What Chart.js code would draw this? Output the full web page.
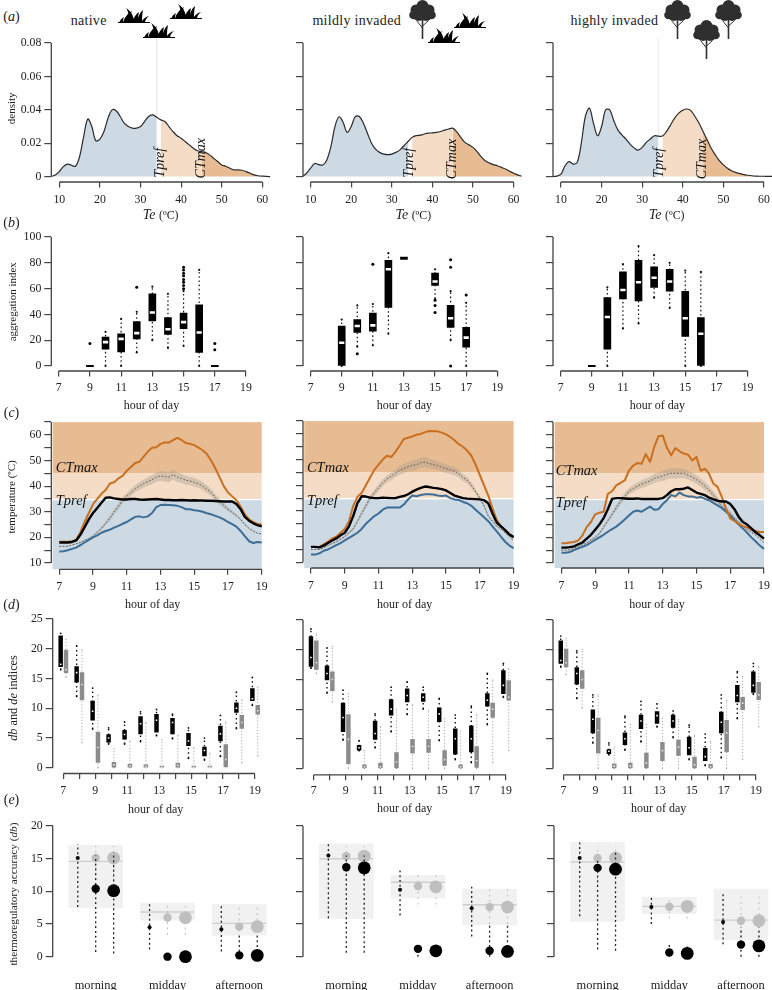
<!DOCTYPE html>
<html><head><meta charset="utf-8">
<script src="https://cdn.jsdelivr.net/npm/chart.js@4"></script>
<style>
html,body{margin:0;padding:0;background:#fff;width:772px;height:990px;overflow:hidden;position:relative}
canvas{position:absolute;display:block}
.t{position:absolute;font-family:'Liberation Serif',serif;color:#222;white-space:nowrap;transform:translate(-50%,-50%)}
.t small{font-size:.85em}
svg.icon{position:absolute;overflow:visible}
</style></head><body>
<script>
/* ---------- panel (a): density of operative temperature ---------- */
const teValues=[8,9,10,11,12,13,14,15,16,17,18,19,20,21,22,23,24,25,26,27,28,29,30,31,32,33,34,35,36,37,38,39,40,41,42,43,44,45,46,47,48,49,50,51,52,53,54,55,56,57,58,59,60,61,62];
const densityNative=[0,.001,.003,.006,.0075,.0068,.0062,.012,.024,.0345,.030,.0215,.0225,.027,.035,.040,.0395,.036,.032,.030,.029,.029,.030,.033,.036,.037,.0355,.034,.033,.030,.027,.0245,.023,.021,.019,.017,.0155,.015,.0145,.013,.011,.009,.007,.0062,.005,.004,.004,.0038,.003,.002,.001,.0005,.0003,.0001,0];
const densityMild=[0,.002,.005,.0078,.0072,.007,.010,.018,.030,.0358,.0325,.0265,.030,.036,.036,.032,.026,.020,.0165,.0145,.0135,.0132,.0135,.0145,.016,.0185,.021,.0235,.0245,.0248,.0255,.026,.0262,.0265,.027,.0278,.0285,.029,.0268,.0235,.0205,.019,.0175,.015,.012,.0095,.0082,.0072,.0065,.0055,.0045,.0032,.002,.001,.0002];
const densityHigh=[0,.0003,.0015,.0065,.009,.0075,.0085,.02,.036,.041,.032,.0245,.03,.040,.040,.0335,.028,.025,.0225,.0195,.0172,.0158,.0175,.0205,.0225,.0245,.0242,.0243,.027,.031,.035,.038,.0398,.0405,.0395,.036,.032,.027,.022,.017,.013,.0095,.007,.005,.0035,.0025,.0018,.0012,.0008,.0005,.0003,.0002,.0002,.0001,.0001];
const densityTicks=[0,.02,.04,.06,.08];
const densityLabels=['0','0.02','0.04','0.06','0.08'];
const teTicks=[10,20,30,40,50,60];
const teLabels=['10','20','30','40','50','60'];

/* ---------- panel (b): aggregation index [low, q1, median, q3, high] ---------- */
const aggHoursNative=[9,10,11,12,13,14,15,16,17];
const aggNative=[[0,0,null,0,0],[0,13,18.5,22.5,26.5],[0,11,21,25,36.5],[10.5,21,25.5,34.5,42],[20,35,41.5,56,61.5],[14,24.5,28.5,37.5,56],[15.5,29,34,41,58],[0,10.5,26,47.5,74.5],[0,0,null,0,0]];
const aggOutNative=[[9,17.5],[12,61],[15,60],[15,62.5],[15,65],[15,67],[15,70],[15,72],[15,74.5],[15,76.5],[17,12.5],[17,17.5]];
const aggHoursMild=[9,10,11,12,13,15,16,17];
const aggMild=[[0,0,18,31,36],[15,26,31,36,47],[16,27,31.5,41,48],[25,45.5,75,82,87.5],[83.5,82.6,null,84.4,83.5],[52,62.5,65.5,72,75],[20,30,37,47,58],[0,14.5,22,30,49]];
const aggOutMild=[[10,9.5],[11,79],[15,51],[15,47],[15,41.5],[16,0],[16,76.5],[16,82.5],[17,55]];
const aggHoursHigh=[9,10,11,12,13,14,15,16];
const aggHigh=[[0,0,null,0,0],[0,13,38,53,61],[29,52,59,73,79],[33,50.5,65,82,93],[53,61,68.5,77,86],[45,58,65.5,75,80],[0,23,37,58,74],[0,0,25,37.5,73]];
const aggOutHigh=[];
const aggTicks=[0,20,40,60,80,100];
const aggLabels=['0','20','40','60','80','100'];
const oddHourTicks=[7,9,11,13,15,17,19];
const oddHourLabels=['7','9','11','13','15','17','19'];

/* ---------- panel (c): temperatures through the day, every quarter hour ---------- */
const tempHours=Array.from({length:49},(_,i)=>7+i/4);
const tempNativeOrange=[18.3,18.3,18.3,18.5,19,22,26,29.5,33,35,37,38.5,41,41.5,43,44,46,47.5,49,49.5,51.5,53.5,55,55.2,56.5,57,57,58,58.8,58,56.8,56.5,56,55,54,52.5,50,47,43.5,40,37.5,36,34.5,32,29,27,26,25.2,25];
const tempNativeBlack=[18,18,18,18.2,18.8,21,24,27,29.5,31.5,33.5,35.5,35.6,35.2,35,34.8,34.8,35,35,34.8,34.7,34.8,34.9,35,34.8,34.6,34.6,34.5,34.5,34.6,34.5,34.4,34.5,34.4,34.4,34.3,34.3,34.2,34.1,34,34,34,33,31,28,26.5,25.5,24.8,24.3];
const tempNativeBlue=[14.5,14.6,15,15.5,16,17,18,19,20,20.8,21.8,22.5,23,23.8,24.5,25.3,26,27,28,28.2,27.8,28.2,29.5,31.8,32.6,32.7,32.6,32.5,32.3,31.8,31,31,30.6,30.4,30,29.4,29,28.4,27.8,27,26,25.2,24.2,22.5,20.5,18.5,17.8,18.2,18];
const tempNativeMean=[16.5,16.5,16.5,17,17.5,18,18.8,19.5,20.5,22,23.5,25.5,27.5,30,32,34.5,36,37.5,39,40,41,41.8,42.5,43.5,44,43.7,43.5,44.5,43.5,43,42.3,42,41.5,41,40,38.8,37.5,35.5,34,32.5,31,29.8,28.5,27,25,23.5,22.5,21.6,21.4];
const tempMildOrange=[16,16,16,17,18,19.3,20,21.5,23,26,32,35.5,37,40,43,46,48,50,51.5,51,53,55.5,58,58.5,59,59.7,60,60.7,61.1,61,61,60.5,59.8,58.8,57.5,56,55,53.5,51.5,48,44,40,36,31,26.5,24,22.5,21,19.8];
const tempMildBlack=[16,16,15.8,16.5,17.5,18.5,19.3,20.5,21.5,24,28,33,35.7,35.6,35.2,35,35,35.2,35.1,35,35,35.5,35.8,36.5,37.5,38.3,39,39.5,39.3,39,38.8,38.5,38,37,36,35.5,35,34.8,34.7,34.6,34.5,34.2,33,29,25.5,24,22.5,20.8,19.8];
const tempMildBlue=[13,13,13.5,14.5,15,15.8,16.7,17.5,18.5,19.5,20.5,21.5,23,25,26.5,28,29,30.5,31.3,31.3,31.3,31.3,32.5,34.5,36,35.7,36.2,36.5,36.5,36.4,36,35.8,36,35,34.5,34.3,33.5,33,32,30.5,29,27.5,26,24,22,20,18,16.5,15.5];
const tempMildMean=[15,15,15,15.7,16.5,17.3,18,19,20,21.5,23,26,29,32,35,37,39,41,42.5,43.5,44.7,45.8,46.5,47.2,47.8,48,48.8,49,48.5,48,47.7,47,46.5,46,45.5,44.5,43,42,40,37.5,35,32,28,26,24,23,21.5,20,18.5];
const tempHighOrange=[17.7,17.7,18,18.2,18.8,20.8,24,26,29,29.6,30,37,38,40.3,41.3,42.2,46,48,49,48.7,52.6,49.4,55.3,59.5,59.8,55,52,54.9,53.6,52.7,52.3,50,51.4,46,46.8,44.8,41,39.7,35.8,31.2,27.3,26.4,25.3,24.4,23.9,23,22.5,22.1,22.1];
const tempHighBlack=[16,16,16.2,16.5,17.3,18,19.5,21,23,25,27.5,31,35,35.3,35.3,35.2,35.1,35.1,35.2,35,35,35,35,35,35.3,36.5,38,38.8,38.8,39,39.5,38.5,37.5,37,36.5,35.5,34.8,34.3,34,34,33,31,28,26,25,23.5,22,20.8,19.5];
const tempHighBlue=[14,14,14.3,15,15.7,16.3,17,18,19,20,21,22.2,23.2,24.2,25.5,27,28.5,30,30.5,30,31,32,30.8,31,33,34.5,36.5,36,37.5,36.5,36,36,35.5,35.8,35,34.5,33.5,32.5,31.5,30,28.5,26.8,25,23.5,21.8,20,18.5,16.8,15.5];
const tempHighMean=[15,15,15.2,15.7,16.3,17,17.8,19,20,21.5,24,26.5,29,31.5,34,36,38,39,40,40.8,41.5,42,43,43.5,44,44.6,45,45,45,45,44.3,43.5,42.5,41.5,40,38.5,36.5,34.5,32,31,29.5,27.5,26,24.5,23,22,21,19.5,18];
const tempBandHalf=[.2,.2,.2,.2,.3,.3,.4,.4,.5,.6,.7,.8,1,1.1,1.2,1.3,1.3,1.4,1.4,1.5,1.6,1.7,1.8,1.8,2,2,2,2,1.9,1.8,1.8,1.7,1.7,1.6,1.6,1.5,1.4,1.3,1.2,1,.8,.7,.6,.5,.4,.3,.3,.2,.2];
const tempTicks=[10,15,20,25,30,35,40,45,50,55,60,65];
const tempLabels=['10','','20','','30','','40','','50','','60',''];

/* ---------- panel (d): db and de indices [low, q1, median, q3, high] ---------- */
const allHours=[7,8,9,10,11,12,13,14,15,16,17,18,19];
const allHourLabels=['7','','9','','11','','13','','15','','17','','19'];
const dbNative=[[16.5,17,17.4,22.2,22.6],[12,14.4,16,17,20.5],[6.5,8,9.5,11.2,13.4],[4,4.3,5,5.6,6.7],[4,4.8,5.6,6.3,7.7],[4.4,5.7,7.4,8.6,9.4],[5.4,6,8,9,9.8],[4.9,5.7,7.6,8.3,9],[1.6,3.7,4.5,5.8,6.7],[1.3,2,2.9,3.5,5],[1.9,4.5,5.7,7,8.8],[6.6,9.3,10,10.9,12.7],[10.5,11.3,11.6,13.3,15.2]];
const deNative=[[15.2,16,16.5,19.8,21.6],[4.2,11.4,14,16,19.8],[0,.9,3.4,6,12.3],[0,0,.5,.9,3.2],[0,0,.3,.6,4.5],[0,0,.2,.5,7.6],[0,0,.1,.3,4.7],[0,0,.4,.8,5.5],[0,0,.1,.3,3.4],[0,0,.1,.3,2.5],[0,.2,1.4,3.9,7.7],[.8,6.6,7.6,8.8,11.4],[2,9,9.6,10.5,13.6]];
const dbMild=[[16.9,17.2,18.7,22.2,23.5],[12.7,14.9,16,17.3,20.3],[4.8,6.2,8.6,11,13.2],[3,3.1,3.5,3.9,4.7],[3.5,4.9,5.9,8,9.2],[6.2,9,10,11.6,13.7],[9.1,11.2,12.3,13.4,14.6],[10,11.3,12,12.6,13.7],[4.7,7.9,9.2,10.2,11.8],[1.5,2.4,5,6.7,9],[1,2.8,5,7.2,10.5],[7.4,10.5,11.5,12.6,16],[12,12.6,14,16.5,17.7]];
const deMild=[[16,16.7,17.8,21.5,22.7],[11.2,13.1,15,16.3,20.5],[0,.8,4.9,9.1,12.6],[0,0,.3,.6,3],[0,0,.3,.9,7],[0,0,1.1,2.7,9.9],[0,2.6,3.7,4.9,10.8],[0,2.7,3.7,4.9,9.8],[0,.5,1.5,3,8.4],[0,0,.3,.6,6.3],[0,.2,1.3,3.7,9],[1,8.6,10,11,14.9],[3,11.5,12,14.8,16.8]];
const dbHigh=[[17.1,17.7,18.2,21.5,22.3],[11.8,14.2,16,17,19.8],[4.3,6,8.3,9.9,12.4],[2.3,2.5,2.9,3.2,4.3],[3.1,4,5,6,8.8],[4.5,6.7,8,9,11.3],[7,7.6,8.9,9.6,10.9],[5.2,6.9,8,9,9.7],[1.5,2.3,3.5,5.3,7.3],[.5,1.3,2,3.4,5.8],[1.8,6,7.8,9.5,12.4],[8.4,11.2,12.3,14,16.3],[12.5,12.8,14,16.3,17.7]];
const deHigh=[[15.8,17.1,17.8,20.1,22],[10.2,13.5,15,16.5,20.1],[0,2.6,6.4,8.5,12.4],[0,0,.4,.8,3.6],[0,0,.4,.9,7.4],[0,0,.9,2.6,7.4],[0,1.3,3,4.4,8.5],[0,2.2,3.6,4.8,8.2],[0,0,.6,1.9,5.6],[0,0,.3,.7,4.5],[0,2.8,6,8.1,11.4],[1.5,9.9,11,12,15.5],[7,11.6,12.4,14.5,17.2]];
const indexTicks=[0,5,10,15,20,25];
const indexLabels=['0','5','10','15','20','25'];

/* ---------- panel (e): thermoregulatory accuracy ---------- */
const periods=['morning','midday','afternoon'];
const accPositions=[1,2,3];
const accTicks=[0,5,10,15,20];
const accLabels=['0','5','10','15','20'];
/* [band low, band high, reference line] */
const accBandsNative=[[7.5,17.1,14.6],[5.6,8.2,6.85],[3.3,8,5.1]];
const accBandsMild=[[5.85,17.3,15],[9,12.45,11.4],[4.9,10.35,7.95]];
const accBandsHigh=[[5.4,17.5,14.5],[6.6,9.1,7.7],[2.6,10.35,5.6]];
/* [value, low, high] for small, medium, large group in each period */
const accBlackNative=[[15.1,7.6,17.2],[10.4,.7,15.5],[10.1,.5,16],[4.5,1.1,8.2],[0,0,0],[0,0,0],[4.2,.8,8],[.2,0,3.2],[.2,0,3.2]];
const accGrayNative=[null,[15.1,10,17],[15.1,10,17],null,[6,3.3,7.8],[5.95,3.3,7.8],null,[4.6,3,8],[4.6,3,8]];
const accBlackMild=[[15.5,5.9,17.3],[13.7,.6,15.5],[13.6,.6,15.5],[10.25,6.3,13.2],[1.2,0,2],[.9,.9,.9],[7.4,3.1,10.7],[.9,0,5],[.8,0,5]];
const accGrayMild=[null,[15.4,10,17],[15.4,10,17],null,[10.8,8,13],[10.7,8,13],null,[7.6,5,10.4],[7.6,5,10.4]];
const accBlackHigh=[[15.1,6.2,17.5],[13.6,1.1,15],[13.4,.9,16],[7.6,5,9.2],[.65,0,1.9],[.5,.5,1.9],[5.3,1.9,9.9],[1.85,0,4.5],[1.65,0,4.5]];
const accGrayHigh=[null,[15.1,11,17],[15.1,11,17],null,[7.65,5.8,9],[7.7,5.8,9],null,[5.5,3,9.5],[5.5,3,9.5]];

/* ---------- helpers ---------- */
const FONT="'Liberation Serif',serif";
Chart.defaults.font.family=FONT;
Chart.defaults.color='#222';
const AXIS='#444';
const ORANGE='#c96f1f', BLUE='#3c6d97', Z_DARK='#e8bc92', Z_LIGHT='#f4dcc6', Z_BLUE='#cdd9e3';

function text(html,x,y,size,rot,extra){
  const d=document.createElement('div');d.className='t';d.innerHTML=html;
  d.style.left=x+'px';d.style.top=y+'px';d.style.fontSize=size+'px';
  if(rot)d.style.transform='translate(-50%,-50%) rotate('+rot+'deg)';
  if(extra)d.style.cssText+=extra;
  document.body.appendChild(d);
}
function range(pa,va,pb,vb,lo,hi){
  const k=(vb-va)/(pb-pa);
  return [va+(lo-pa)*k, va+(hi-pa)*k];
}
function decor(o){return {id:'decor',
  beforeDatasetsDraw(c){
    if(!o.zones)return;
    const a=c.chartArea,ctx=c.ctx,xs=c.scales.x,ys=c.scales.y;
    ctx.save();
    o.zones.forEach(z=>{
      const l=xs.getPixelForValue(z[0]),r=xs.getPixelForValue(z[1]);
      const t=ys.getPixelForValue(z[3]),b=Math.min(ys.getPixelForValue(z[2]),a.bottom);
      ctx.fillStyle=z[4];ctx.fillRect(l,t,r-l,b-t);
    });
    ctx.restore();
  },
  afterDatasetsDraw(c){
    const ctx=c.ctx,xs=c.scales.x,ys=c.scales.y,a=c.chartArea;
    ctx.save();
    (o.notes||[]).forEach(n=>{
      ctx.save();
      ctx.translate(xs.getPixelForValue(n.x),ys.getPixelForValue(n.y));
      if(n.rot)ctx.rotate(n.rot*Math.PI/180);
      ctx.font='italic '+(n.size||14)+'px '+FONT;ctx.fillStyle='#111';
      ctx.textAlign=n.rot?'center':'left';ctx.textBaseline='middle';
      ctx.fillText(n.text,0,0);ctx.restore();
    });
    ctx.strokeStyle=AXIS;ctx.lineWidth=1.3;
    ctx.beginPath();
    ctx.moveTo(a.left,ys.getPixelForValue(o.yTicks[0]));
    ctx.lineTo(a.left,ys.getPixelForValue(o.yTicks[o.yTicks.length-1]));
    if(!o.noXLine){
      ctx.moveTo(xs.getPixelForValue(o.xTicks[0]),a.bottom);
      ctx.lineTo(xs.getPixelForValue(o.xTicks[o.xTicks.length-1]),a.bottom);
    }
    ctx.stroke();ctx.restore();
  }};
}
function panel(o){
  const cLeft=o.col===0?0:o.L-14, cTop=o.T-10, cRight=o.R+14;
  const titleFont=12, lh=titleFont*1.2;
  const cBottom=o.xTitle?o.xTitleY+lh/2:o.B+o.bottomMargin;
  const cv=document.createElement('canvas');
  cv.width=Math.ceil(cRight-cLeft);cv.height=Math.ceil(cBottom-cTop);
  cv.style.left=cLeft+'px';cv.style.top=cTop+'px';
  document.body.appendChild(cv);
  const shift=(scale,dx,dy)=>{
    if(scale.__w)return;scale.__w=true;
    const f=scale.drawTitle;
    scale.drawTitle=function(){const c=this.ctx;c.save();c.translate(dx,dy);f.call(this);c.restore();};
  };
  const tickFont={size:11.8};
  new Chart(cv,{
    type:'bar',
    data:{datasets:o.datasets},
    options:{
      responsive:false,animation:false,
      layout:{padding:{left:0,right:cv.width-(o.R-cLeft),top:o.T-cTop,bottom:0}},
      plugins:{legend:{display:false},tooltip:{enabled:false}},
      scales:{
        x:{type:'linear',offset:false,min:o.xr[0],max:o.xr[1],
          border:{display:false},
          grid:{offset:false,display:!o.noXLine,drawOnChartArea:false,drawTicks:true,tickLength:5.5,tickColor:AXIS,lineWidth:1.2},
          ticks:{font:o.xFont||tickFont,padding:o.xPad,autoSkip:false,maxRotation:0,minRotation:0,callback:(v,i)=>o.xLabels[i]},
          title:o.xTitle?{display:true,text:o.xTitle,font:{size:titleFont},padding:0}:{display:false},
          afterBuildTicks:s=>{s.ticks=o.xTicks.map(v=>({value:v}));},
          afterFit:s=>{s.height=cBottom-o.B;if(o.xTitle)shift(s,o.xTitleX-(o.L+o.R)/2,0);}
        },
        y:{type:'linear',min:o.yr[0],max:o.yr[1],
          border:{display:false},
          grid:{display:true,drawOnChartArea:false,drawTicks:true,tickLength:7,tickColor:AXIS,lineWidth:1.2},
          ticks:{font:tickFont,padding:3,autoSkip:false,maxRotation:0,minRotation:0,callback:(v,i)=>o.col===0?o.yLabels[i]:''},
          title:(o.col===0&&o.yTitle)?{display:true,text:o.yTitle,font:{size:11},padding:{top:o.yTitleX-6.6,bottom:0}}:{display:false},
          afterBuildTicks:s=>{s.ticks=o.yTicks.map(v=>({value:v}));},
          afterFit:s=>{s.width=o.L-cLeft;if(o.col===0&&o.yTitle)shift(s,0,o.yTitleY-(o.T+o.B)/2);}
        }
      }
    },
    plugins:[decor(o)]
  });
}
/* box plot pieces */
function boxes(hours,stats,st){
  const off=st.offset||0, out=[];
  const whisk=[];
  hours.forEach((h,i)=>{const s=stats[i];
    if(s[0]!==s[4]){whisk.push({x:h+off,y:s[0]},{x:h+off,y:s[4]},{x:h+off,y:null});}
  });
  out.push({type:'line',data:whisk,borderColor:st.whisker,borderWidth:st.whiskerWidth,borderDash:st.dash,spanGaps:false,tension:0,
    pointRadius:st.cap,pointBackgroundColor:st.whisker,pointBorderWidth:0,order:st.base+2,clip:false});
  out.push({type:'bar',data:hours.map((h,i)=>({x:h+off,y:[stats[i][1],stats[i][3]]})),backgroundColor:st.box,
    barThickness:st.width,grouped:false,minBarLength:st.minLen,order:st.base+1,borderWidth:0});
  out.push({type:'line',showLine:false,data:hours.map((h,i)=>({x:h+off,y:stats[i][2]})),pointStyle:'line',
    pointRadius:st.medR,borderWidth:st.medW,pointBorderWidth:st.medW,pointBorderColor:st.med,order:st.base});
  return out;
}
function outliers(points){
  return {type:'line',showLine:false,data:points.map(p=>({x:p[0],y:p[1]})),pointRadius:1.5,pointBackgroundColor:'#000',pointBorderWidth:0,order:5,clip:false};
}
const aggStyle={whisker:'#111',whiskerWidth:1.2,dash:[1.6,2.6],cap:1.1,box:'#000',width:7,minLen:1.5,medR:2.6,medW:2.6,med:'#fff',base:1};
const dbStyle={offset:-.165,whisker:'#111',whiskerWidth:1.4,dash:[1.5,3],cap:.9,box:'#000',width:3.8,minLen:1,medR:.8,medW:1.6,med:'#fff',base:1};
const deStyle={offset:.17,whisker:'#b0b0b0',whiskerWidth:1,dash:[1.3,1.8],cap:.7,box:'#8b8b8b',width:3.8,minLen:1,medR:.8,medW:1.6,med:'#e4e4e4',base:11};

/* ---------- row a ---------- */
const aL=[51.3,302.7,552.7],a10=[59.3,310.3,560.7],a60=[262.3,513.3,763.7];
[[densityNative,true,[[34.8,.0083],[45,.011]]],
 [densityMild,false,[[34.4,.0083],[45,.0105]]],
 [densityHigh,true,[[34.2,.0083],[44.8,.0105]]]].forEach((row,col)=>{
  const dens=row[0];
  const pts=teValues.map((x,i)=>({x,y:dens[i]}));
  const part=(a,b)=>pts.filter(p=>p.x>=a&&p.x<=b);
  const fillSet=(a,b,c)=>({type:'line',data:part(a,b),borderWidth:0,pointRadius:0,tension:.35,fill:'origin',backgroundColor:c,order:5});
  const ds=[
    {type:'line',data:pts,borderColor:'#2b2b2b',borderWidth:1.2,pointRadius:0,tension:.35,fill:false,order:1},
    fillSet(8,34,Z_BLUE),fillSet(35,45,Z_LIGHT),fillSet(45,62,Z_DARK)
  ];
  if(row[1])ds.push({type:'line',data:[{x:34,y:.083},{x:34,y:dens[teValues.indexOf(34)]}],borderColor:'#e9edf0',borderWidth:1,pointRadius:0,order:3,clip:false});
  const R=a60[col]+8.1,L=aL[col],T=43.3,B=181.7;
  panel({col,L,R,T,B,bottomMargin:26,
    xr:range(a10[col],10,a60[col],60,L,R),yr:range(176.3,0,43.3,.08,B,T),
    xTicks:teTicks,xLabels:teLabels,yTicks:densityTicks,yLabels:densityLabels,
    xPad:5,yTitle:'density',yTitleX:12.3,yTitleY:108.3,datasets:ds,
    notes:[{text:'Tpref',x:row[2][0][0],y:row[2][0][1],rot:-90},{text:'CTmax',x:row[2][1][0],y:row[2][1][1],rot:-90}]});
});

/* ---------- row b ---------- */
const bL=[51.3,302.7,552.7],b7=[58.7,310.3,560.3],b19=[246,497,747.3],bTitleX=[151.5,404,657];
[[aggHoursNative,aggNative,aggOutNative],[aggHoursMild,aggMild,aggOutMild],[aggHoursHigh,aggHigh,aggOutHigh]].forEach((row,col)=>{
  const L=bL[col],R=b19[col]+8,T=237.3,B=370.7;
  panel({col,L,R,T,B,xTitle:'hour of day',xTitleX:bTitleX[col],xTitleY:405.5,xPad:4.5,
    xr:range(b7[col],7,b19[col],19,L,R),yr:range(365.7,0,237.3,100,B,T),
    xTicks:oddHourTicks,xLabels:oddHourLabels,yTicks:aggTicks,yLabels:aggLabels,
    yTitle:'aggregation index',yTitleX:12.7,yTitleY:301.7,
    datasets:[...boxes(row[0],row[1],aggStyle),outliers(row[2])]});
});

/* ---------- row c ---------- */
const cL=[51.3,302.7,553.3],c7=[59.3,310.7,561.7],c19=[261.7,513.3,764.3],cTop=[421.9,421,421.9],c10=[562.7,562,562.7],cB=[569,567.7,567.7],cTitleX=[152.7,404.3,657.3];
const cNotes=[[6.79,47,34.3],[6.76,46.6,33.8],[6.66,46,33.4]];
[[tempNativeOrange,tempNativeBlack,tempNativeBlue,tempNativeMean],
 [tempMildOrange,tempMildBlack,tempMildBlue,tempMildMean],
 [tempHighOrange,tempHighBlack,tempHighBlue,tempHighMean]].forEach((row,col)=>{
  const line=(vals,color,w,order,extra)=>Object.assign({type:'line',data:tempHours.map((x,i)=>({x,y:vals[i]})),borderColor:color,borderWidth:w,pointRadius:0,tension:0,fill:false,order,borderJoinStyle:'round'},extra||{});
  const upper=row[3].map((v,i)=>v+tempBandHalf[i]), lower=row[3].map((v,i)=>v-tempBandHalf[i]);
  const L=cL[col],R=c19[col]+1,T=cTop[col],B=cB[col];
  panel({col,L,R,T,B,xTitle:'hour of day',xTitleX:cTitleX[col],xTitleY:604.5,xPad:5.5,
    xr:range(c7[col],7,c19[col],19,L,R),yr:range(c10[col],10,cTop[col],65,B,T),
    xTicks:oddHourTicks,xLabels:oddHourLabels,yTicks:tempTicks,yLabels:tempLabels,
    yTitle:'temperature (ºC)',yTitleX:11.7,yTitleY:496.7,
    zones:[[6.6,19,45,65,Z_DARK],[6.6,19,35,45,Z_LIGHT],[6.6,19,0,34.5,Z_BLUE]],
    notes:[{text:'CTmax',x:cNotes[col][0],y:cNotes[col][1],size:14.5},{text:'Tpref',x:cNotes[col][0],y:cNotes[col][2],size:14.5}],
    datasets:[
      line(row[1],'#000',2.4,1),line(row[0],ORANGE,2,2),line(row[2],BLUE,2,3),
      line(row[3],'#555',1,4,{borderDash:[1.6,1.8]}),
      line(upper,'rgba(0,0,0,0)',0,6,{fill:'+1',backgroundColor:'rgba(165,155,140,.38)'}),
      line(lower,'rgba(0,0,0,0)',0,7)
    ]});
});

/* ---------- row d ---------- */
const dL=[52.7,302.7,553.3],d7=[63.3,313.3,563.7],d19=[255,505.7,756.3],d25=[619,619.7,619.7],d0=[767,767.7,767.7],dB=[772.7,774,774],dTitleX=[155.7,404.3,659],dTitleY=[809,808,808];
[[dbNative,deNative],[dbMild,deMild],[dbHigh,deHigh]].forEach((row,col)=>{
  const L=dL[col],R=d19[col]+5,T=d25[col],B=dB[col];
  panel({col,L,R,T,B,xTitle:'hour of day',xTitleX:dTitleX[col],xTitleY:dTitleY[col],xPad:col===0?5:4,
    xr:range(d7[col],7,d19[col],19,L,R),yr:range(d0[col],0,d25[col],25,B,T),
    xTicks:allHours,xLabels:allHourLabels,yTicks:indexTicks,yLabels:indexLabels,
    datasets:[...boxes(allHours,row[0],dbStyle),...boxes(allHours,row[1],deStyle)]});
});

/* ---------- row e ---------- */
const eL=[52.7,302.7,553.7],e1=[95.7,346,597.3],e3=[239.3,489.3,740.7];
const SPREAD=.25, RADII=[2,4.2,6.4];
[[accBandsNative,accBlackNative,accGrayNative],[accBandsMild,accBlackMild,accGrayMild],[accBandsHigh,accBlackHigh,accGrayHigh]].forEach((row,col)=>{
  const bands=row[0],posOf=i=>1+Math.floor(i/3)+(i%3-1)*SPREAD;
  const ds=[];
  ds.push({type:'bar',data:bands.map((b,i)=>({x:accPositions[i],y:[b[0],b[1]]})),backgroundColor:'#f1f1f1',barThickness:54,grouped:false,order:20,borderWidth:0});
  const refs=[];bands.forEach((b,i)=>refs.push({x:accPositions[i]-.375,y:b[2]},{x:accPositions[i]+.375,y:b[2]},{x:accPositions[i],y:null}));
  ds.push({type:'line',data:refs,borderColor:'#cfcfcf',borderWidth:1.4,pointRadius:0,spanGaps:false,order:19});
  const whisk=(arr,color,w,dash,order)=>{
    const d=[];arr.forEach((v,i)=>{if(v&&v[1]!==v[2])d.push({x:posOf(i),y:v[1]},{x:posOf(i),y:v[2]},{x:posOf(i),y:null});});
    return {type:'line',data:d,borderColor:color,borderWidth:w,borderDash:dash,pointRadius:0,spanGaps:false,order,clip:false};
  };
  ds.push(whisk(row[2],'#c4c4c4',1.1,[2,3.5],15));
  ds.push(whisk(row[1],'#222',1.3,[2,2.8],12));
  const dots=(arr,color,order)=>{
    const keep=arr.map((v,i)=>v?i:-1).filter(i=>i>=0);
    return {type:'line',showLine:false,data:keep.map(i=>({x:posOf(i),y:arr[i][0]})),
      pointRadius:keep.map(i=>RADII[i%3]),pointBackgroundColor:color,pointBorderWidth:0,order,clip:false};
  };
  ds.push(dots(row[2],'#bfbfbf',14));
  ds.push(dots(row[1],'#000',10));
  const L=eL[col],R=e3[col]+30,T=825.5,B=968.5;
  panel({col,L,R,T,B,bottomMargin:21.5,noXLine:true,xPad:3,xFont:{size:12.4},
    xr:range(e1[col],1,e3[col],3,L,R),yr:range(955.7,0,825.5,20,B,T),
    xTicks:accPositions,xLabels:periods,yTicks:accTicks,yLabels:accLabels,datasets:ds});
});

/* ---------- text that mixes styles, headings ---------- */
[['a',17.3],['b',222.7],['c',413.3],['d',605],['e',800]].forEach(p=>text('(<i>'+p[0]+'</i>)',11.5,p[1],14));
text('native',88.7,20.7,14,0,'letter-spacing:.3px');
text('mildly invaded',356.7,20.7,14,0,'letter-spacing:.3px');
text('highly invaded',614.3,20.7,14,0,'letter-spacing:.3px');
[[160.7,214.5],[413.3,214.5],[666.7,214.5]].forEach(p=>text('<i>Te</i> <small>(ºC)</small>',p[0],p[1],14));
text('<i>db</i> and <i>de</i> indices',12.7,698.3,12.3,-90);
text('thermoregulatory accuracy (<i>db</i>)',12.7,893.7,11.3,-90);

/* ---------- habitat icons ---------- */
const GRASS='<path d="M1 16C2 13 4 11 6 10C5 12 5 14 5 16ZM5 16C6 11 10 6 14 4C12 8 11 12 11 16ZM10 16C11 10 11 5 8 1C13 4 16 9 16 16ZM14 16C15 11 18 7 21 5C20 9 20 12 20 16ZM19 16C20 10 22 5 25 3C24 8 24 12 24 16ZM23 16C24 13 27 10 31 9C28 11 27 14 27 16ZM0 15H32V16H0Z" fill="#000"/>';
const TREE='<g fill="#2f2f2f"><circle cx="13.5" cy="6" r="6"/><circle cx="7" cy="10" r="5.5"/><circle cx="20" cy="10" r="5.5"/><circle cx="4.5" cy="15" r="4.3"/><circle cx="22.5" cy="15" r="4.3"/><circle cx="10" cy="15" r="6"/><circle cx="17" cy="15" r="6"/><rect x="12.7" y="17" width="1.6" height="22"/></g><path d="M13.5 28L7.5 20.5M13.5 26L19.5 20.5" stroke="#2f2f2f" stroke-width="1" fill="none"/>';
function icon(body,vb,x,y,w,h){
  const s=document.createElementNS('http://www.w3.org/2000/svg','svg');
  s.setAttribute('class','icon');s.setAttribute('viewBox',vb);s.setAttribute('width',w);s.setAttribute('height',h);
  s.style.left=x+'px';s.style.top=y+'px';s.innerHTML=body;document.body.appendChild(s);
}
[[117.7,7],[170,3],[143,22],[454,12],[428,27]].forEach(p=>icon(GRASS,'0 0 32 16',p[0],p[1],32,16));
[[409,0],[664,0],[715,0],[693,20]].forEach(p=>icon(TREE,'0 0 27 40',p[0],p[1],27,40));
</script>
</body></html>
